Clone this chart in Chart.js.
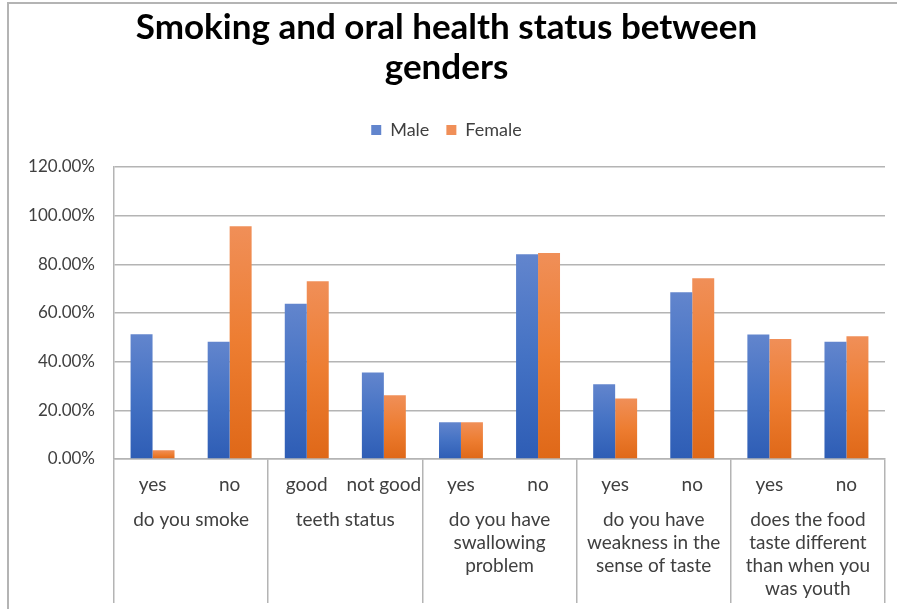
<!DOCTYPE html>
<html>
<head>
<meta charset="utf-8">
<script src="https://cdn.jsdelivr.net/npm/chart.js@4.4.1/dist/chart.umd.min.js"></script>
<style>
  body { margin: 0; background: #fff; }
  #wrap { position: relative; width: 897px; height: 609px; }
  #frame { position: absolute; left: 7px; top: 2px; right: 0; bottom: 0; border-left: 2px solid #b4b4b4; border-top: 2px solid #b4b4b4; pointer-events: none; }
</style>
</head>
<body>
<div id="wrap">
  <canvas id="chart" width="897" height="609"></canvas>
  <div id="frame"></div>
</div>
<script>
// values (percent)
const answers = ['yes', 'no', 'good', 'not good', 'yes', 'no', 'yes', 'no', 'yes', 'no'];
const questions = [
  'do you smoke',
  'teeth status',
  ['do you have', 'swallowing', 'problem'],
  ['do you have', 'weakness in the', 'sense of taste'],
  ['does the food', 'taste different', 'than when you', 'was youth']
];
const male = [51.3, 48.2, 63.8, 35.5, 15.1, 84.1, 30.7, 68.5, 51.2, 48.2];
const female = [3.6, 95.7, 73.0, 26.2, 15.1, 84.7, 24.9, 74.3, 49.3, 50.4];
const yTicks = [0, 20, 40, 60, 80, 100, 120];

const gridGray = '#b4b4b4';
Chart.defaults.font.family = 'Lato';

// vertical gradient per bar, lighter on top
function barFill(top, mid, bottom) {
  return (ctx) => {
    const y = ctx.chart.scales.y;
    if (!y || !ctx.parsed) return mid;
    const yTop = y.getPixelForValue(ctx.parsed.y);
    const yBase = y.getPixelForValue(0);
    if (!isFinite(yTop) || !isFinite(yBase)) return mid;
    const g = ctx.chart.ctx.createLinearGradient(0, yTop, 0, yBase);
    g.addColorStop(0, top);
    g.addColorStop(0.5, mid);
    g.addColorStop(1, bottom);
    return g;
  };
}

// only the boundaries between question groups
const groupLine = (ctx) => (ctx.index === undefined || ctx.index % 2 === 0) ? gridGray : 'rgba(0,0,0,0)';

new Chart(document.getElementById('chart'), {
  type: 'bar',
  data: {
    labels: answers,
    datasets: [
      {
        label: 'Male',
        data: male,
        backgroundColor: barFill('#6285cd', '#4472c4', '#2e5db5')
      },
      {
        label: 'Female',
        data: female,
        backgroundColor: barFill('#f08f58', '#ed7d31', '#df6818')
      }
    ]
  },
  options: {
    responsive: false,
    animation: false,
    devicePixelRatio: 1,
    categoryPercentage: 0.57,
    barPercentage: 1.0,
    layout: { padding: { left: 8, right: 12, top: 0, bottom: 0 } },
    plugins: {
      title: {
        display: true,
        text: ['Smoking and oral health status between', 'genders'],
        color: '#000',
        font: { size: 35, weight: 'bold', lineHeight: '40px' },
        padding: { top: 8, bottom: 16 }
      },
      subtitle: {
        display: true,
        text: '',
        weight: 500,
        font: { size: 1, lineHeight: '1px' },
        padding: { top: 0, bottom: 17 }
      },
      legend: {
        display: true,
        labels: {
          boxWidth: 10,
          boxHeight: 10,
          padding: 17,
          color: '#404040',
          font: { size: 18 }
        }
      },
      tooltip: { enabled: false }
    },
    scales: {
      x: {
        weight: 1,
        offset: true,
        grid: {
          offset: true,
          drawOnChartArea: false,
          drawTicks: true,
          tickLength: 35,
          color: groupLine,
          tickColor: groupLine,
          lineWidth: 1.5
        },
        border: { display: true, color: gridGray, width: 1.5 },
        ticks: {
          color: '#404040',
          font: { size: 19 },
          padding: -20.4,
          maxRotation: 0,
          autoSkip: false
        },
        afterFit: (scale) => { scale.height = 35; }
      },
      x2: {
        type: 'category',
        position: 'bottom',
        weight: 2,
        labels: questions,
        offset: true,
        grid: {
          offset: true,
          drawOnChartArea: false,
          drawTicks: true,
          tickLength: 109,
          color: gridGray,
          lineWidth: 1.5
        },
        border: { display: false },
        ticks: {
          color: '#404040',
          font: { size: 19, lineHeight: '23px' },
          padding: -94.5,
          maxRotation: 0,
          autoSkip: false
        },
        afterFit: (scale) => { scale.height = 115; }
      },
      y: {
        min: 0,
        max: 120,
        afterBuildTicks: (scale) => { scale.ticks = yTicks.map(v => ({ value: v })); },
        grid: { color: gridGray, lineWidth: 1.5, drawTicks: false },
        border: { display: true, color: gridGray, width: 1.5 },
        ticks: {
          color: '#404040',
          font: { size: 17 },
          padding: 19,
          callback: (v) => v.toFixed(2) + '%'
        },
        afterFit: (scale) => { scale.width = 106; }
      }
    }
  }
});
</script>
</body>
</html>
